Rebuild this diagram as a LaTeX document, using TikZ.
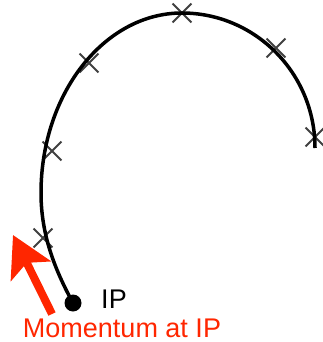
\documentclass[tikz,border=0pt]{standalone}
\usepackage{fontspec}
\setmainfont{Liberation Sans}
\usetikzlibrary{arrows.meta, shapes.misc}
\definecolor{momred}{RGB}{255,38,0}

\begin{document}
\begin{tikzpicture}[
      x=1pt, y=-1pt,
      hit/.style={
        cross out,
        draw=black!75,
        line width=1.8pt,
        minimum size=17pt,
        inner sep=0pt
      },
      track/.style={line width=3.5pt, black},
      vertex/.style={circle, fill=black, minimum size=17pt, inner sep=0pt},
      momentum/.style={-{Stealth[length=40pt, width=44pt, inset=9pt]}, line width=8pt, momred},
      label/.style={font=\fontsize{27}{31}\selectfont, inner sep=0pt, anchor=base}
    ]
    \useasboundingbox (0,0) rectangle (322,342);

    \node[hit] (h1) at (43,238) {};
    \node[hit] (h2) at (52,151) {};
    \node[hit] (h3) at (89,63) {};
    \node[hit] (h4) at (182,13) {};
    \node[hit] (h5) at (276,48) {};
    \node[hit] (h6) at (315,137) {};

    \node[vertex] (ip) at (73,303) {};
    \coordinate (leftmost) at (41,193);
    \coordinate (top) at (182,13);
    \coordinate (trackend) at (315,148);

    \draw[track] (ip.center) .. controls (55,270) and (41,235) .. (leftmost)
      .. controls (41,94) and (104,13) .. (top)
      .. controls (255,13) and (315,73) .. (trackend);

    \node[label] (iplabel) at (114,308) {IP};

    \coordinate (tail) at (52,314);
    \coordinate (tip) at (13,235);
    \draw[momentum] (tail) -- (tip);
    \node[label, text=momred] (momlabel) at (122,337) {Momentum at IP};
  \end{tikzpicture}
\end{document}
